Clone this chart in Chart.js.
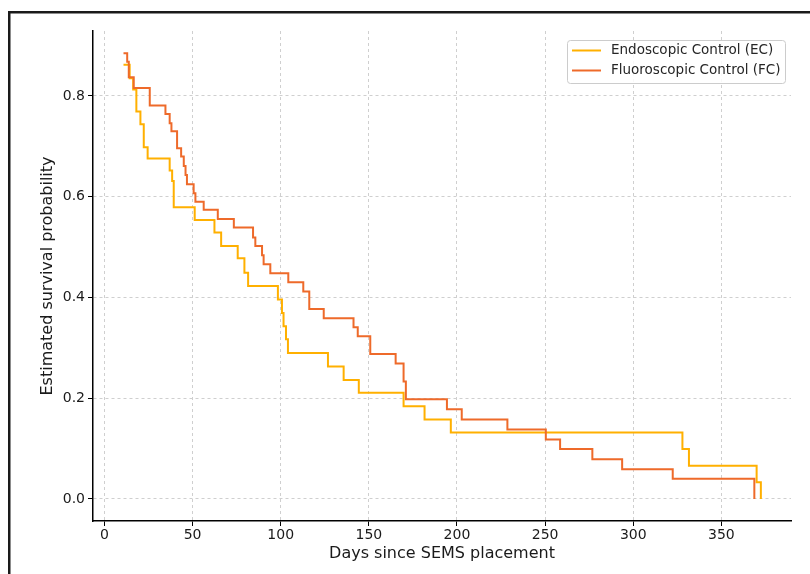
<!DOCTYPE html>
<html>
<head>
<meta charset="utf-8">
<script src="https://cdn.jsdelivr.net/npm/chart.js@4.4.0/dist/chart.umd.min.js"></script>
<style>
html,body{margin:0;padding:0;background:#fff;}
#wrap{position:relative;width:810px;height:574px;}
</style>
</head>
<body>
<div id="wrap"><canvas id="c" width="810" height="574"></canvas></div>
<script>
// ---- data ----
const seriesNames = ['Endoscopic Control (EC)', 'Fluoroscopic Control (FC)'];

const ecDays = [10.8, 14.3, 16.3, 18.1, 20.4, 22.3, 24.5, 37.0, 38.4, 39.3, 51.2, 62.4, 66.2, 75.6, 79.4, 81.5, 98.4, 100.7, 101.6, 103.0, 104.1, 126.8, 135.7, 144.3, 169.7, 181.6, 196.5, 327.9, 331.6, 370.0, 372.4];
const ecSurv = [0.862, 0.835, 0.813, 0.769, 0.744, 0.698, 0.676, 0.652, 0.631, 0.579, 0.554, 0.529, 0.502, 0.478, 0.449, 0.423, 0.396, 0.369, 0.343, 0.317, 0.290, 0.263, 0.236, 0.211, 0.184, 0.158, 0.132, 0.099, 0.066, 0.033, 0.0];

const fcDays = [10.8, 12.9, 13.8, 16.6, 25.7, 34.6, 37.0, 38.0, 41.2, 43.5, 45.0, 46.0, 46.8, 50.6, 51.6, 56.3, 64.3, 73.4, 84.3, 85.6, 89.4, 90.3, 94.1, 104.3, 112.8, 116.2, 124.4, 141.3, 143.7, 150.8, 165.2, 169.7, 171.0, 194.3, 202.7, 228.6, 250.4, 258.5, 276.8, 293.7, 322.4, 368.7];
const fcSurv = [0.885, 0.868, 0.837, 0.816, 0.781, 0.764, 0.746, 0.730, 0.696, 0.680, 0.661, 0.643, 0.625, 0.607, 0.590, 0.574, 0.556, 0.539, 0.519, 0.502, 0.484, 0.466, 0.448, 0.430, 0.412, 0.377, 0.359, 0.341, 0.323, 0.288, 0.269, 0.233, 0.198, 0.178, 0.158, 0.138, 0.118, 0.099, 0.079, 0.059, 0.040, 0.0];

const xTicks = [0, 50, 100, 150, 200, 250, 300, 350];
const yTicks = [0.0, 0.2, 0.4, 0.6, 0.8];
const xTitle = 'Days since SEMS placement';
const yTitle = 'Estimated survival probability';

// ---- styles ----
const ecColor = '#FFB000';
const fcColor = '#EE6A2A';
const FONT = 'DejaVu Sans';
const textColor = '#1a1a1a';

const toPts = (xs, ys) => xs.map((x, i) => ({x: x, y: ys[i]}));

const framePlugin = {
  id: 'frameAndLegend',
  beforeDraw(chart) {
    const ctx = chart.ctx;
    ctx.save();
    ctx.fillStyle = '#ffffff';
    ctx.fillRect(0, 0, chart.width, chart.height);
    ctx.restore();
  },
  afterDraw(chart) {
    const ctx = chart.ctx;
    ctx.save();
    // legend box
    const bx = 567.5, by = 40.5, bw = 218, bh = 43;
    ctx.beginPath();
    if (ctx.roundRect) ctx.roundRect(bx, by, bw, bh, 3); else ctx.rect(bx, by, bw, bh);
    ctx.fillStyle = 'rgba(255,255,255,0.85)';
    ctx.fill();
    ctx.strokeStyle = '#cccccc';
    ctx.lineWidth = 1;
    ctx.stroke();
    chart.data.datasets.forEach((ds, i) => {
      const y = 50.5 + i * 20;
      ctx.beginPath();
      ctx.moveTo(572, y);
      ctx.lineTo(601, y);
      ctx.strokeStyle = ds.borderColor;
      ctx.lineWidth = 2;
      ctx.stroke();
      ctx.fillStyle = '#262626';
      ctx.font = '13.5px "' + FONT + '"';
      ctx.textBaseline = 'middle';
      ctx.textAlign = 'left';
      ctx.fillText(ds.label, 611, y);
    });
    // outer frame (left + top)
    ctx.fillStyle = '#1a1a1a';
    ctx.fillRect(8, 11, 2.5, chart.height - 11);
    ctx.fillRect(8, 11, chart.width - 8, 2.5);
    ctx.restore();
  }
};

const tickFont = {family: FONT, size: 14};
const titleFont = {family: FONT, size: 16};

new Chart(document.getElementById('c'), {
  type: 'line',
  data: {
    datasets: [
      {label: seriesNames[0], data: toPts(ecDays, ecSurv), borderColor: ecColor, backgroundColor: ecColor,
       borderWidth: 2, stepped: true, pointRadius: 0, fill: false, order: 1},
      {label: seriesNames[1], data: toPts(fcDays, fcSurv), borderColor: fcColor, backgroundColor: fcColor,
       borderWidth: 2, stepped: true, pointRadius: 0, fill: false, order: 0}
    ]
  },
  options: {
    responsive: false,
    animation: false,
    devicePixelRatio: 1,
    layout: {padding: {left: 0, right: 19, top: 31, bottom: 0}},
    plugins: {legend: {display: false}, tooltip: {enabled: false}, title: {display: false}},
    scales: {
      x: {
        type: 'linear', min: -6.5, max: 389.5,
        afterBuildTicks: s => { s.ticks = xTicks.map(v => ({value: v})); },
        afterFit: s => { s.height = 53; },
        grid: {color: '#cfcfcf', lineWidth: 1, tickLength: 5, tickColor: '#000', tickWidth: 1, tickBorderDash: []},
        border: {display: true, color: '#000', width: 1.5, dash: [3, 3]},
        ticks: {font: tickFont, color: textColor, padding: 1, maxRotation: 0, autoSkip: false,
                callback: v => String(v)},
        title: {display: true, text: xTitle, font: titleFont, color: textColor, padding: {top: 0, bottom: 10.4}}
      },
      y: {
        type: 'linear', min: -0.0437, max: 0.929,
        afterBuildTicks: s => { s.ticks = yTicks.map(v => ({value: v})); },
        afterFit: s => { s.width = 93; },
        grid: {color: '#cfcfcf', lineWidth: 1, tickLength: 5, tickColor: '#000', tickWidth: 1, tickBorderDash: []},
        border: {display: true, color: '#000', width: 1.5, dash: [3, 3]},
        ticks: {font: tickFont, color: textColor, padding: 3, autoSkip: false,
                callback: v => Number(v).toFixed(1)},
        title: {display: true, text: yTitle, font: titleFont, color: textColor, padding: {top: 38.4, bottom: 0}}
      }
    }
  },
  plugins: [framePlugin]
});
</script>
</body>
</html>
